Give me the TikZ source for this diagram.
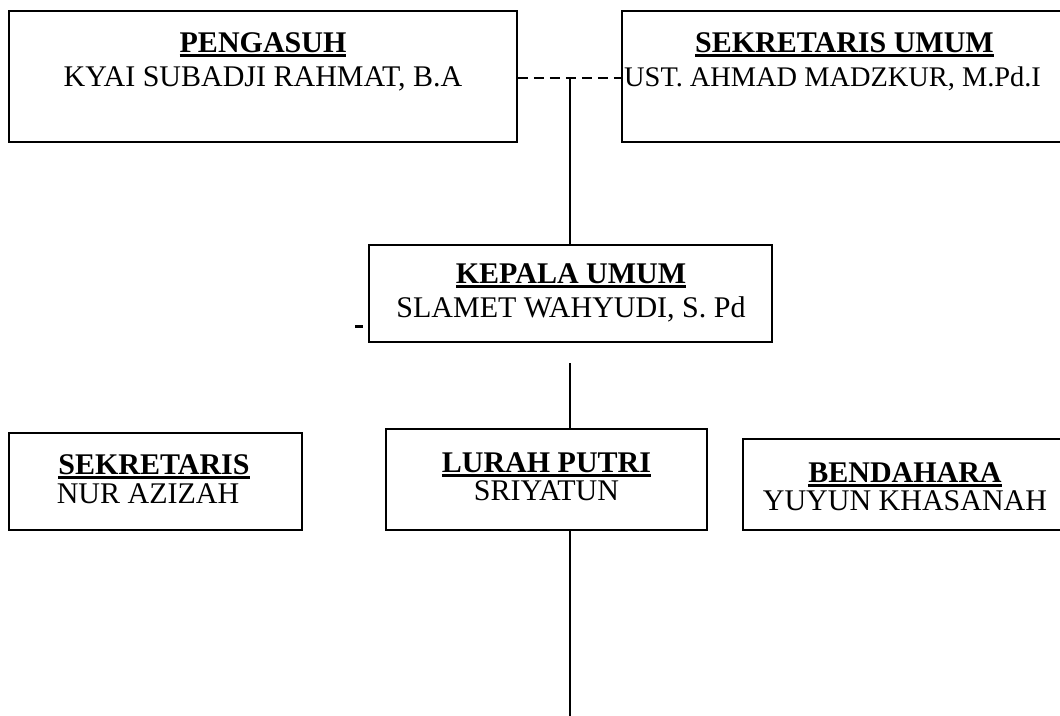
\documentclass[tikz,border=0pt]{standalone}
\usepackage{fontspec}
\setmainfont{Liberation Serif}
\newsavebox{\ulsave}
\newcommand{\ulbox}[1]{\sbox{\ulsave}{#1}\rlap{\rule[-4.5pt]{\wd\ulsave}{2.2pt}}\usebox{\ulsave}}
\begin{document}
\begin{tikzpicture}[x=1pt,y=-1pt,
  box/.style={draw=black,line width=1.6pt,rectangle,inner sep=0pt},
  ttl/.style={anchor=base,inner sep=0pt,font=\fontsize{30}{34}\selectfont\bfseries},
  nm/.style={anchor=base,inner sep=0pt,font=\fontsize{30}{34}\selectfont},
  conn/.style={draw=black,line width=1.5pt}]
\useasboundingbox (0,0) rectangle (1060,715);
% boxes
\node[box,minimum width=508pt,minimum height=131pt] (peng) at (263,76.5) {};
\node[box,minimum width=453pt,minimum height=131pt] (sekum) at (848.5,76.5) {};
\node[box,minimum width=403pt,minimum height=97pt] (kep) at (570.5,293.5) {};
\node[box,minimum width=293pt,minimum height=97pt] (sek) at (155.5,481.5) {};
\node[box,minimum width=321pt,minimum height=101pt] (lur) at (546.5,479.5) {};
\node[box,minimum width=332pt,minimum height=91pt] (bend) at (909,484.5) {};
% texts
\node[ttl] (pengT) at (263,52) {\ulbox{PENGASUH}};
\node[nm] (pengN) at (263,86) {KYAI SUBADJI RAHMAT, B.A};
\node[ttl] (sekumT) at (844.5,52) {\ulbox{SEKRETARIS UMUM}};
\node[nm,anchor=base west,font=\fontsize{28.4}{32}\selectfont] (sekumN) at (624,86) {UST. AHMAD MADZKUR, M.Pd.I};
\node[ttl] (kepT) at (571,283) {\ulbox{KEPALA UMUM}};
\node[nm] (kepN) at (571,317) {SLAMET WAHYUDI, S. Pd};
\node[ttl] (sekT) at (154,474) {\ulbox{SEKRETARIS}};
\node[nm] (sekN) at (148,503) {NUR AZIZAH};
\node[ttl] (lurT) at (546.5,472) {\ulbox{LURAH PUTRI}};
\node[nm] (lurN) at (546.5,500) {SRIYATUN};
\node[ttl] (bendT) at (905,482) {\ulbox{BENDAHARA}};
\node[nm] (bendN) at (905,510) {YUYUN KHASANAH};
% connectors
\coordinate (j) at (570,78);
\coordinate (mid) at (570,363);
\coordinate (bot) at (570,716);
\coordinate (d1) at (355,326);
\coordinate (d2) at (363,326);
\draw[conn,line width=2.2pt,dash pattern=on 10pt off 6pt] (peng.east |- j) -- (sekum.west |- j);
\draw[conn] (j) -- (kep.north -| j);
\draw[conn,line width=3pt] (d1) -- (d2);
\draw[conn] (mid) -- (lur.north -| mid);
\draw[conn] (lur.south -| mid) -- (bot);
\end{tikzpicture}
\end{document}
